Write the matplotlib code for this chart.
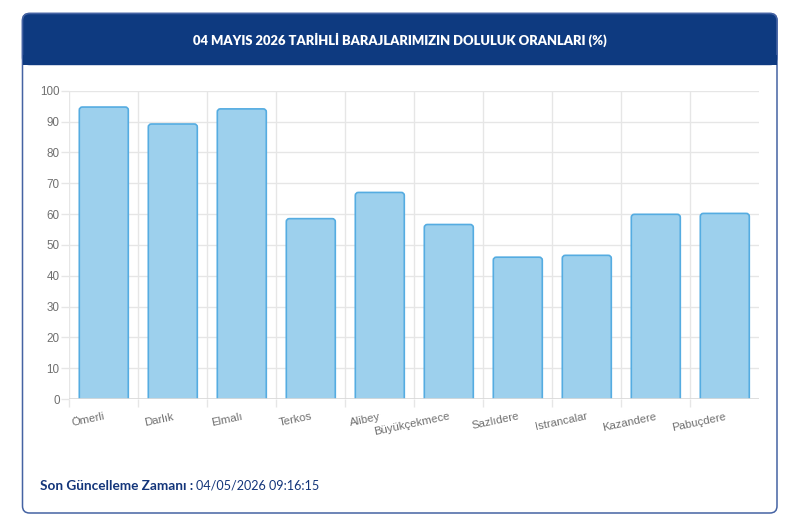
import matplotlib
matplotlib.use("Agg")
import matplotlib.pyplot as plt
from matplotlib.patches import FancyBboxPatch, Rectangle
import numpy as np

# dam fill ratios
dams = ["Ömerli", "Darlık", "Elmalı", "Terkos", "Alibey", "Büyükçekmece",
        "Sazlıdere", "Istrancalar", "Kazandere", "Pabuçdere"]
fill = [94.7, 89.2, 94.1, 58.5, 67.0, 56.6, 46.0, 46.6, 59.9, 60.2]
yticks = [0, 10, 20, 30, 40, 50, 60, 70, 80, 90, 100]

title = "04 MAYIS 2026 TARİHLİ BARAJLARIMIZIN DOLULUK ORANLARI (%)"
stamp_label = "Son Güncelleme Zamanı : "
stamp_value = "04/05/2026 09:16:15"

navy = "#0e3a80"
grid_c = "#e6e6e6"
tick_c = "#707070"

fig = plt.figure(figsize=(8, 5.32), dpi=100, facecolor="white")

# card background in pixel coords
bg = fig.add_axes([0, 0, 1, 1], zorder=-1)
bg.set_xlim(0, 800)
bg.set_ylim(532, 0)
bg.axis("off")
bg.add_patch(FancyBboxPatch((22.5, 13.5), 754.5, 499.5,
                            boxstyle="round,pad=0,rounding_size=7",
                            facecolor="white", edgecolor="#4563a3", lw=1.1))
bg.add_patch(FancyBboxPatch((22.5, 13.5), 754.5, 51,
                            boxstyle="round,pad=0,rounding_size=7",
                            facecolor=navy, edgecolor="#4563a3", lw=1.1))
bg.add_patch(Rectangle((22.5, 55), 754.5, 9.5, facecolor=navy, edgecolor="none"))
bg.text(400, 40, title, color="white", fontsize=9.4, fontweight="heavy",
        family="Lato", ha="center", va="center")

# main chart
ax = fig.add_axes([69.3 / 800, 133 / 532, 690 / 800, 308.3 / 532])
ax.set_facecolor("none")
x = np.arange(len(dams))
bars = ax.bar(x, fill, width=0.71)

# replace plain bars by rounded ones (same geometry)
for b in bars:
    bx, bw, bh = b.get_x(), b.get_width(), b.get_height()
    b.set_visible(False)
    ax.add_patch(FancyBboxPatch((bx, -3), bw, bh + 3,
                                boxstyle="round,pad=0,rounding_size=0.045",
                                mutation_aspect=22,
                                facecolor="#9dd0ed", edgecolor="#55ace1",
                                lw=1.2, zorder=2, clip_on=True))

ax.set_xlim(-0.5, len(dams) - 0.5)
ax.set_ylim(0, 100)
for s in ax.spines.values():
    s.set_visible(False)
ax.axhline(0, color="#d9d9d9", lw=1.2, zorder=3)

ax.set_yticks(yticks)
ax.set_xticks(x)
ax.set_xticklabels(dams, rotation=12, ha="right", rotation_mode="anchor",
                   family="Liberation Sans", fontsize=8.2, color=tick_c)
ax.set_xticks(np.arange(-0.5, len(dams) - 1), minor=True)
ax.tick_params(axis="x", which="major", length=0, pad=9)
ax.tick_params(axis="x", which="minor", length=6, color=grid_c, width=1)
ax.tick_params(axis="y", length=6, color=grid_c, width=1, pad=1,
               labelsize=8.4, labelcolor=tick_c)
for lab in ax.get_yticklabels():
    lab.set_family("Liberation Sans")
ax.grid(axis="y", which="major", color=grid_c, lw=1, zorder=0)
ax.grid(axis="x", which="minor", color=grid_c, lw=1, zorder=0)
ax.set_axisbelow(True)

# footer
t1 = bg.text(40, 486, stamp_label, color="#13357a", fontsize=9.8,
             fontweight="bold", family="Lato", ha="left", va="center")
bg.annotate(stamp_value, xy=(1, 0.5), xycoords=t1, ha="left", va="center",
            color="#13357a", fontsize=9.1, family="Lato")

fig.savefig("out.png", dpi=100, facecolor="white")
